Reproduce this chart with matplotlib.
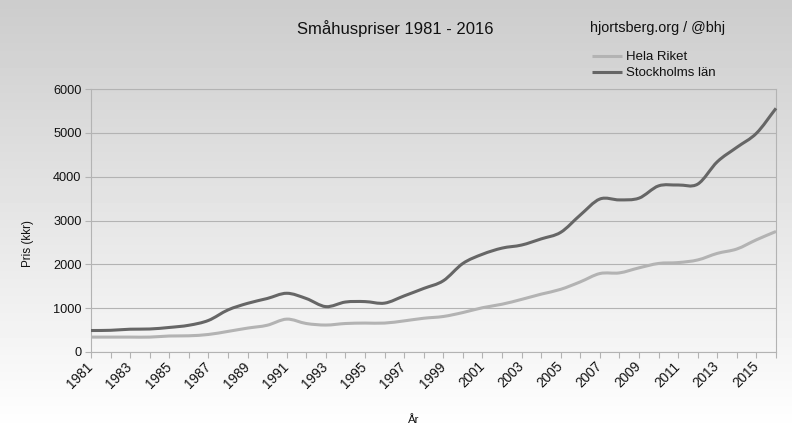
import numpy as np
import matplotlib
matplotlib.use('Agg')
import matplotlib.pyplot as plt
from matplotlib.path import Path
from matplotlib.patches import PathPatch
from matplotlib.transforms import ScaledTranslation

plt.rcParams['font.family'] = ['Liberation Sans', 'DejaVu Sans']

# --- Data ---
years = list(range(1981, 2017))
hela_riket = [340, 340, 340, 340, 365, 370, 400, 470, 545, 610, 750, 650, 615, 650, 660, 660,
              710, 770, 810, 900, 1010, 1090, 1200, 1320, 1430, 1600, 1790, 1805, 1920, 2020,
              2040, 2100, 2250, 2350, 2560, 2750]
stockholm = [490, 495, 520, 525, 560, 610, 720, 960, 1110, 1220, 1340, 1220, 1035, 1140, 1150, 1115,
             1280, 1450, 1625, 2020, 2230, 2370, 2440, 2580, 2730, 3125, 3490, 3470, 3510, 3790,
             3810, 3830, 4340, 4670, 4990, 5560]
y_ticks = [0, 1000, 2000, 3000, 4000, 5000, 6000]


def smooth_path(xs, ys):
    # the original is a smoothed line, so go through each point with bezier segments
    xs = np.asarray(xs, dtype=float)
    ys = np.asarray(ys, dtype=float)
    dy = np.gradient(ys, xs)
    verts = [(xs[0], ys[0])]
    codes = [Path.MOVETO]
    for i in range(len(xs) - 1):
        h = xs[i + 1] - xs[i]
        verts += [(xs[i] + h / 3, ys[i] + dy[i] * h / 3),
                  (xs[i + 1] - h / 3, ys[i + 1] - dy[i + 1] * h / 3),
                  (xs[i + 1], ys[i + 1])]
        codes += [Path.CURVE4] * 3
    return Path(verts, codes)


W, H = 792, 445
fig = plt.figure(figsize=(W / 100, H / 100), dpi=100)

# page gradient, dark at the top and white near the bottom
bg = fig.add_axes([0, 0, 1, 1], zorder=0)
bg.imshow(np.linspace(0, 1, 445).reshape(-1, 1), aspect='auto', cmap='gray', vmin=-3.9, vmax=0.97,
          extent=[0, 1, 0, 1])
bg.axis('off')

ax = fig.add_axes([91 / W, 1 - 352 / H, 685 / W, 263 / H], zorder=1)
ax.patch.set_alpha(0)
ax.set_xlim(1981, 2016)
ax.set_ylim(0, 6000)

line_grey = '#b3b3b3'
line_dark = '#666666'
axis_grey = '#b3b3b3'

ax.add_patch(PathPatch(smooth_path(years, hela_riket), fill=False, ec=line_grey, lw=2.2, clip_on=False, zorder=3))
ax.add_patch(PathPatch(smooth_path(years, stockholm), fill=False, ec=line_dark, lw=2.2, clip_on=False, zorder=4))

ax.set_yticks(y_ticks)
ax.set_xticks(years)
ax.set_xticklabels([str(y) if (y - 1981) % 2 == 0 else '' for y in years], rotation=45, ha='right',
                   rotation_mode='anchor', fontsize=9.8, color='#111111')
ax.tick_params(axis='y', length=4.3, width=0.8, color=axis_grey, labelsize=9.2, labelcolor='#111111', pad=2.5)
ax.tick_params(axis='x', length=4.3, width=0.8, color=axis_grey, pad=1)
# labels sit a little left of their ticks in the original (has to come after tick_params)
shift = ScaledTranslation(-5 / 100, 0, fig.dpi_scale_trans)
for lab in ax.get_xticklabels():
    lab.set_transform(lab.get_transform() + shift)
ax.grid(axis='y', color=axis_grey, lw=0.8)
ax.set_axisbelow(True)
for s in ax.spines.values():
    s.set_color(axis_grey)
    s.set_linewidth(0.8)

fig.text(395.5 / W, 1 - 29 / H, 'Småhuspriser 1981 - 2016', fontsize=12, ha='center', va='center', color='#111111')
fig.text(590 / W, 1 - 28 / H, 'hjortsberg.org / @bhj', fontsize=10.4, ha='left', va='center', color='#111111')
fig.text(28 / W, 1 - 243.5 / H, 'Pris (kkr)', fontsize=8.4, rotation=90, ha='center', va='center', color='#111111')
fig.text(414 / W, 1 - 420 / H, 'År', fontsize=8.2, ha='center', va='center', color='#111111')

# legend placed by hand in figure pixels
for ypos, col, name in [(56, line_grey, 'Hela Riket'), (72, line_dark, 'Stockholms län')]:
    fig.add_artist(plt.Line2D([592 / W, 622 / W], [1 - ypos / H, 1 - ypos / H], color=col, lw=2.2,
                              solid_capstyle='butt'))
    fig.text(626 / W, 1 - (ypos + 0.5) / H, name, fontsize=9.5, ha='left', va='center', color='#111111')

fig.savefig('out.png', dpi=100)
